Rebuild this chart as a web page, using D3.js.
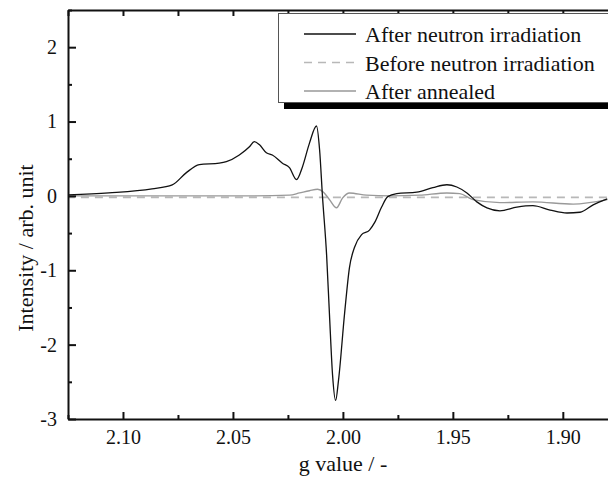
<!DOCTYPE html>
<html>
<head>
<meta charset="utf-8">
<script src="https://cdn.jsdelivr.net/npm/d3@7/dist/d3.min.js"></script>
<style>
  html, body { margin: 0; padding: 0; background: #fff; }
  svg { display: block; font-family: "Liberation Serif", "Times New Roman", serif; }
  svg text { font-family: "Liberation Serif", "Times New Roman", serif; }
</style>
</head>
<body>
<svg id="chart" width="608" height="478"></svg>
<script>
// ---- data (g value, intensity) ----
const afterIrrG = [2.1255, 2.1064, 2.0868, 2.0776, 2.0713, 2.0653, 2.0562, 2.0530, 2.0471, 2.0425,
  2.0403, 2.0380, 2.0348, 2.0321, 2.0275, 2.0243, 2.0211, 2.0184, 2.0152, 2.0120,
  2.0106, 2.0093, 2.0074, 2.0061, 2.0047, 2.0033, 2.0020, 1.9992, 1.9970, 1.9947,
  1.9915, 1.9879, 1.9856, 1.9824, 1.9796, 1.9755, 1.9664, 1.9591, 1.9527, 1.9482,
  1.9436, 1.9391, 1.9345, 1.9286, 1.9209, 1.9136, 1.9058, 1.8981, 1.8922, 1.8862, 1.8798];
const afterIrrI = [0.013, 0.04, 0.094, 0.148, 0.31, 0.42, 0.44, 0.46, 0.55, 0.66,
  0.73, 0.69, 0.58, 0.55, 0.44, 0.38, 0.22, 0.39, 0.71, 0.94,
  0.62, 0.0, -0.8, -1.6, -2.41, -2.75, -2.48, -1.57, -0.96, -0.69,
  -0.52, -0.46, -0.36, -0.15, -0.01, 0.03, 0.05, 0.11, 0.15, 0.12,
  0.04, -0.08, -0.16, -0.20, -0.15, -0.13, -0.19, -0.23, -0.22, -0.12, -0.04];

const beforeIrrG = [2.1255, 2.0500, 2.0000, 1.9500, 1.9000, 1.8798];
const beforeIrrI = [-0.02, -0.02, -0.02, -0.02, -0.02, -0.02];

const annealedG = [2.1255, 2.0881, 2.0425, 2.0243, 2.0197, 2.0152, 2.0115, 2.0088, 2.0061, 2.0029,
  2.0002, 1.9970, 1.9892, 1.9787, 1.9651, 1.9527, 1.9468, 1.9409, 1.9286, 1.9136, 1.8953, 1.8798];
const annealedI = [0.0, 0.0, 0.0, 0.01, 0.04, 0.07, 0.09, 0.05, -0.05, -0.16,
  -0.03, 0.04, 0.01, 0.0, 0.01, 0.04, 0.03, -0.05, -0.09, -0.08, -0.11, -0.05];

const xTicks = [2.10, 2.05, 2.00, 1.95, 1.90];
const xTickLabels = ["2.10", "2.05", "2.00", "1.95", "1.90"];
const xMinorTicks = [2.125, 2.075, 2.025, 1.975, 1.925, 1.875];
const yTicks = [-3, -2, -1, 0, 1, 2];
const yTickLabels = ["-3", "-2", "-1", "0", "1", "2"];
const yMinorTicks = [-2.5, -1.5, -0.5, 0.5, 1.5, 2.5];
const seriesNames = ["After neutron irradiation", "Before neutron irradiation", "After annealed"];

// ---- layout ----
const svg = d3.select("#chart");
const mLeft = 68, mTop = 10, mBottom = 419, mRight = 620;
const x = d3.scaleLinear().domain([2.125, 1.874]).range([mLeft, mRight]);
const y = d3.scaleLinear().domain([-3, 2.5]).range([mBottom, mTop]);

svg.append("defs").append("clipPath").attr("id", "clip")
  .append("rect").attr("x", mLeft).attr("y", mTop).attr("width", mRight - mLeft).attr("height", mBottom - mTop);

const line = d3.line().x(d => x(d[0])).y(d => y(d[1])).curve(d3.curveMonotoneX);
const zip = (a, b) => a.map((v, i) => [v, b[i]]);

const curves = svg.append("g").attr("clip-path", "url(#clip)");
curves.append("path").datum(zip(beforeIrrG, beforeIrrI)).attr("d", line)
  .attr("fill", "none").attr("stroke", "#b8b8b8").attr("stroke-width", 1.6).attr("stroke-dasharray", "8,6");
curves.append("path").datum(zip(annealedG, annealedI)).attr("d", line)
  .attr("fill", "none").attr("stroke", "#999").attr("stroke-width", 1.4);
curves.append("path").datum(zip(afterIrrG, afterIrrI)).attr("d", line)
  .attr("fill", "none").attr("stroke", "#111").attr("stroke-width", 1.3);

// ---- axes ----
const fontFam = "'Liberation Serif', 'Times New Roman', serif";
const xAxis = d3.axisBottom(x).tickValues(xTicks).tickFormat((d, i) => xTickLabels[i])
  .tickSizeInner(-7).tickSizeOuter(0).tickPadding(11);
const gx = svg.append("g").attr("transform", `translate(0,${mBottom})`).call(xAxis)
  .attr("font-family", null).attr("font-size", null);
gx.selectAll("text").style("font-family", fontFam).style("font-size", "20px").attr("fill", "#111");
const gxm = svg.append("g").attr("transform", `translate(0,${mBottom})`)
  .call(d3.axisBottom(x).tickValues(xMinorTicks).tickSize(-4).tickFormat(""));
gxm.select(".domain").remove();

svg.append("g").attr("transform", `translate(0,${mTop})`)
  .call(d3.axisTop(x).tickValues(xTicks.concat(xMinorTicks)).tickSize(-6).tickSizeOuter(0).tickFormat(""));

const yAxis = d3.axisLeft(y).tickValues(yTicks).tickFormat((d, i) => yTickLabels[i])
  .tickSizeInner(-8).tickSizeOuter(0).tickPadding(11);
const gy = svg.append("g").attr("transform", `translate(${mLeft},0)`).call(yAxis)
  .attr("font-family", null).attr("font-size", null);
gy.selectAll("text").style("font-family", fontFam).style("font-size", "20px").attr("fill", "#111");
const gym = svg.append("g").attr("transform", `translate(${mLeft},0)`)
  .call(d3.axisLeft(y).tickValues(yMinorTicks).tickSize(-4).tickFormat(""));
gym.select(".domain").remove();

svg.selectAll(".domain").attr("stroke", "#111").attr("stroke-width", 2);
svg.selectAll(".tick line").attr("stroke", "#111").attr("stroke-width", 2);

// axis titles
svg.append("text").attr("x", 343).attr("y", 471).attr("text-anchor", "middle")
  .style("font-size", "22px").attr("fill", "#111").text("g value / -");
svg.append("text").attr("transform", "translate(33,248) rotate(-90)").attr("text-anchor", "middle")
  .style("font-size", "22px").attr("fill", "#111").text("Intensity / arb. unit");

// ---- legend ----
const lg = svg.append("g");
lg.append("rect").attr("x", 284).attr("y", 103).attr("width", 340).attr("height", 6).attr("fill", "#000");
lg.append("rect").attr("x", 278.5).attr("y", 13.5).attr("width", 340).attr("height", 89)
  .attr("fill", "#fff").attr("stroke", "#555").attr("stroke-width", 1);
const legendStyles = [
  { stroke: "#111", dash: null, w: 1.3 },
  { stroke: "#b8b8b8", dash: "8,6", w: 1.6 },
  { stroke: "#999", dash: null, w: 1.4 }
];
const legendY = d3.scalePoint().domain(seriesNames).range([34, 91]);
seriesNames.forEach((name, i) => {
  const yy = legendY(name);
  lg.append("line").attr("x1", 304).attr("x2", 356).attr("y1", yy).attr("y2", yy)
    .attr("stroke", legendStyles[i].stroke).attr("stroke-width", legendStyles[i].w)
    .attr("stroke-dasharray", legendStyles[i].dash);
  lg.append("text").attr("x", 365).attr("y", yy + 8).style("font-size", "22px").attr("fill", "#111").text(name);
});
</script>
</body>
</html>
